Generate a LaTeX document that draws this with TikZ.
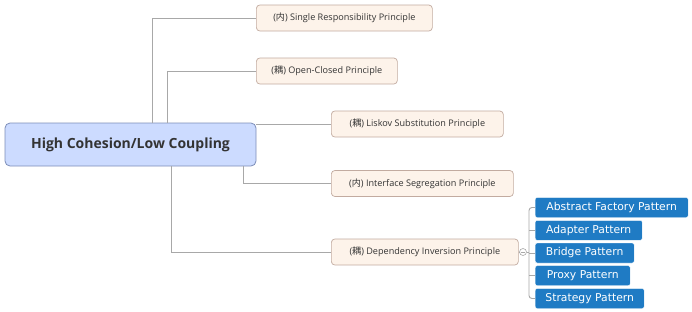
\documentclass[tikz,border=0pt]{standalone}
\usepackage{fontspec}
\setmainfont{Open Sans}
\newfontfamily\cjk{Noto Sans CJK SC}
\newfontfamily\patfont{DejaVu Sans}
\definecolor{rootfill}{HTML}{CCDBFF}
\definecolor{rootdraw}{HTML}{7C8DB8}
\definecolor{subfill}{HTML}{FDF3EA}
\definecolor{subdraw}{HTML}{C2ABA0}
\definecolor{patfill}{HTML}{1F7BC4}
\definecolor{linegray}{HTML}{A8A8A8}
\definecolor{txt}{HTML}{333333}
\tikzset{
  rootbox/.style={draw=rootdraw, fill=rootfill, rounded corners=5pt, line width=0.8pt,
    minimum width=251pt, minimum height=43pt, inner sep=0pt,
    font=\fontsize{14}{16}\selectfont\bfseries, text=txt},
  subbox/.style={draw=subdraw, fill=subfill, rounded corners=3.5pt, line width=0.7pt,
    minimum height=26pt, inner sep=0pt, anchor=west,
    font=\fontsize{9.1}{11}\selectfont, text=txt},
  patbox/.style={fill=patfill, rounded corners=2pt, draw=white, line width=0.4pt,
    minimum height=20pt, inner sep=0pt, anchor=west,
    font=\patfont\fontsize{10.8}{12}\selectfont, text=white},
  conn/.style={draw=linegray, line width=0.9pt},
}
\begin{document}
\begin{tikzpicture}[x=1pt,y=-1pt]
\useasboundingbox (0,0) rectangle (692,311);
\node[rootbox] (root) at (130.5,144.5) {High Cohesion/Low Coupling};
\node[subbox, minimum width=176pt] (srp) at (256,18) {({\cjk 内}) Single Responsibility Principle};
\node[subbox, minimum width=141pt] (ocp) at (256,71) {({\cjk 耦}) Open-Closed Principle};
\node[subbox, minimum width=172pt] (lsp) at (331,124) {({\cjk 耦}) Liskov Substitution Principle};
\node[subbox, minimum width=182pt] (isp) at (331,183.5) {({\cjk 内}) Interface Segregation Principle};
\node[subbox, minimum width=187pt] (dip) at (331,252) {({\cjk 耦}) Dependency Inversion Principle};
\node[patbox, minimum width=153pt] (abs) at (535,207.5) {Abstract Factory Pattern};
\node[patbox, minimum width=107pt] (ada) at (535,230.3) {Adapter Pattern};
\node[patbox, minimum width=99pt] (bri) at (535,253) {Bridge Pattern};
\node[patbox, minimum width=95pt] (pro) at (535,275.7) {Proxy Pattern};
\node[patbox, minimum width=109pt] (str) at (535,298.5) {Strategy Pattern};
\coordinate (x1) at (152,0);
\coordinate (x2) at (167,0);
\coordinate (x3) at (171,0);
\coordinate (x4) at (243,0);
\coordinate (br) at (529,252);
\node[circle, draw=linegray, fill=white, line width=0.6pt, minimum size=7pt, inner sep=0pt] (circ) at (523,252) {};
\draw[conn] (root.north -| x1) |- (srp.west);
\draw[conn] (root.north -| x2) |- (ocp.west);
\draw[conn] (root.east |- lsp.west) -- (lsp.west);
\draw[conn] (root.south -| x4) |- (isp.west);
\draw[conn] (root.south -| x3) |- (dip.west);
\draw[conn] (dip.east) -- (circ.west);
\draw[draw=linegray, line width=0.6pt] ([xshift=-2pt]circ.center) -- ([xshift=2pt]circ.center);
\draw[conn] (circ.east) -- (br);
\draw[conn, rounded corners=3pt] (abs.west) -| (br) |- (str.west);
\draw[conn] (br |- ada.west) -- (ada.west);
\draw[conn] (br |- bri.west) -- (bri.west);
\draw[conn] (br |- pro.west) -- (pro.west);
\end{tikzpicture}
\end{document}
